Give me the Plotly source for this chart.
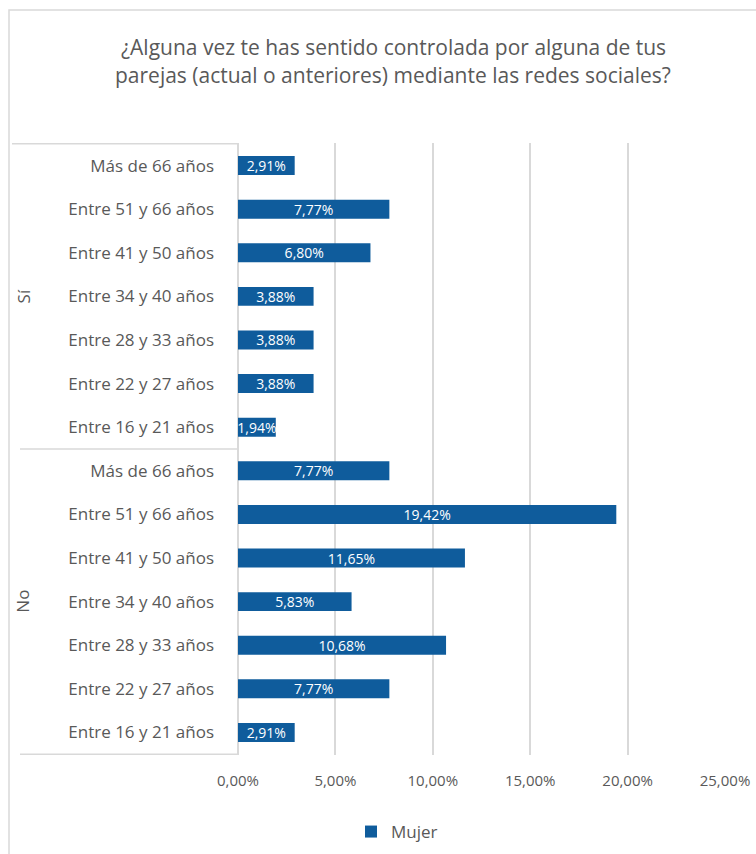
import plotly.graph_objects as go

# ---- data ----
age_groups = ["Más de 66 años", "Entre 51 y 66 años", "Entre 41 y 50 años",
              "Entre 34 y 40 años", "Entre 28 y 33 años", "Entre 22 y 27 años",
              "Entre 16 y 21 años"]
answers = ["Sí", "No"]
mujer_si = [2.91, 7.77, 6.80, 3.88, 3.88, 3.88, 1.94]
mujer_no = [7.77, 19.42, 11.65, 5.83, 10.68, 7.77, 2.91]
x_ticks = [0, 5, 10, 15, 20, 25]

title_lines = ["¿Alguna vez te has sentido controlada por alguna de tus",
               "parejas (actual o anteriores) mediante las redes sociales?"]

# ---- build categories ----
cat_keys = [f"{a}|{g}" for a in answers for g in age_groups]
cat_text = [g for a in answers for g in age_groups]
values = mujer_si + mujer_no

W, H = 756, 854
L, R, T, B = 238, 31, 143, 99
PW, PH = W - L - R, H - T - B
def px_x(p):
    return (p - L) / PW
def px_y(p):
    return (H - B - p) / PH

FONT = "Open Sans"
GRAY = "#595959"
LINE = "#d9d9d9"
BLUE = "#0f5c9c"

def pct(v):
    return f"{v:.2f}".replace(".", ",") + "%"

fig = go.Figure()
fig.add_trace(go.Bar(
    x=values, y=cat_keys, orientation="h", name="Mujer",
    marker=dict(color=BLUE, line=dict(width=0)),
    text=[pct(v) for v in values],
    textposition="inside", insidetextanchor="middle", constraintext="none",
    textfont=dict(color="white", size=14, family=FONT),
    hoverinfo="skip",
))

n = len(age_groups)
shapes = []
# outer chart border
shapes.append(dict(type="rect", xref="paper", yref="paper",
                   x0=px_x(9), x1=px_x(790), y0=px_y(890), y1=px_y(10),
                   line=dict(color=LINE, width=1.5), fillcolor="rgba(0,0,0,0)", layer="below"))
# category box lines
for yv, xs in [(-0.5, 12), (n - 0.5, 20), (2 * n - 0.5, 20)]:
    shapes.append(dict(type="line", xref="paper", yref="y",
                       x0=px_x(xs), x1=0, y0=yv, y1=yv,
                       line=dict(color=LINE, width=1.5)))

annotations = []
for i, a in enumerate(answers):
    annotations.append(dict(
        text=a, xref="paper", yref="y", x=px_x(23), y=i * n + (n - 1) / 2,
        showarrow=False, textangle=-90, font=dict(size=17, color=GRAY, family=FONT),
        xanchor="center", yanchor="middle"))
for line, ypx in zip(title_lines, [47, 75]):
    annotations.append(dict(
        text=line, xref="paper", yref="paper", x=px_x(393), y=px_y(ypx),
        showarrow=False, xanchor="center", yanchor="middle",
        font=dict(size=21, color=GRAY, family=FONT)))

fig.update_layout(
    width=W, height=H,
    margin=dict(l=L, r=R, t=T, b=B, pad=0, autoexpand=False),
    paper_bgcolor="white", plot_bgcolor="white",
    font=dict(family=FONT, color=GRAY),
    bargap=0.565,
    showlegend=True,
    legend=dict(orientation="h", x=397 / W, xref="container",
                y=1 - 832 / H, yref="container", xanchor="center",
                yanchor="middle", font=dict(size=17, color=GRAY, family=FONT),
                itemwidth=30),
    shapes=shapes,
    annotations=annotations,
)
fig.update_xaxes(range=[0, 25], tickvals=x_ticks,
                 ticktext=[pct(v) for v in x_ticks], automargin=False,
                 ticklabeloverflow="allow",
                 showgrid=True, gridcolor=LINE, gridwidth=1.5,
                 zeroline=True, zerolinecolor=LINE, zerolinewidth=1.5,
                 showline=False, ticks="", ticklabelstandoff=15,
                 tickfont=dict(size=15, color=GRAY, family=FONT), fixedrange=True)
fig.update_yaxes(type="category", autorange="reversed", automargin=False,
                 tickvals=cat_keys, ticktext=cat_text,
                 showgrid=False, showline=False, ticks="", ticklabelstandoff=23,
                 tickfont=dict(size=17, color=GRAY, family=FONT), fixedrange=True)

fig.write_html("out.html", config={"displayModeBar": False},
               post_script="document.body.style.margin='0';document.body.style.overflow='hidden';")
